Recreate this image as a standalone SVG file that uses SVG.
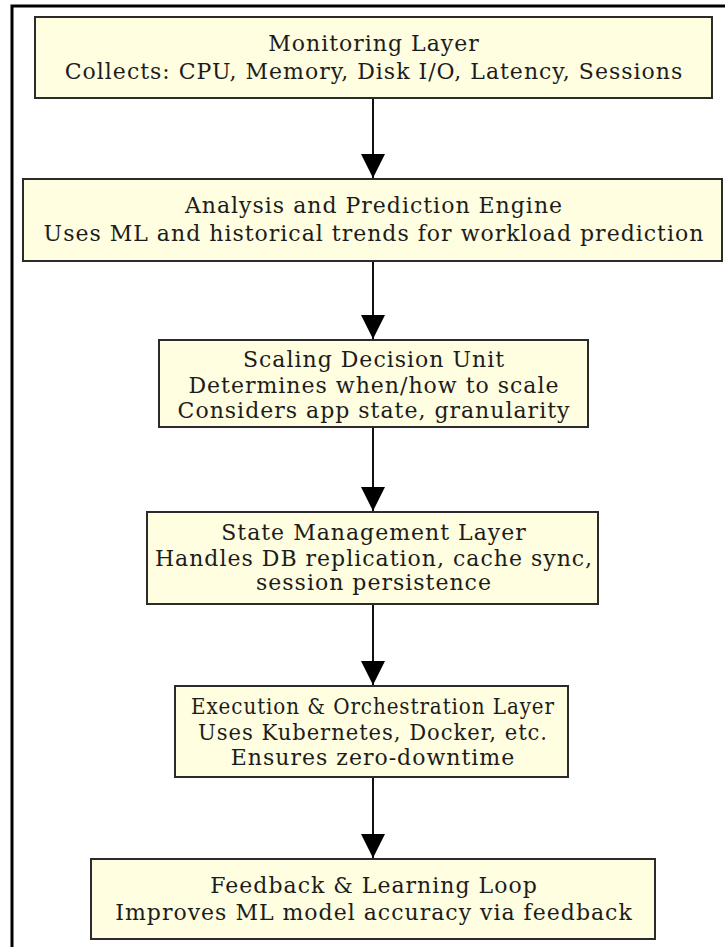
<svg xmlns="http://www.w3.org/2000/svg" width="725" height="947" viewBox="0 0 725 947">
<defs>
<style>
.box{fill:#fffee0;stroke:#2b2b2b;stroke-width:2}
.t{font-family:"DejaVu Serif","Liberation Serif",serif;font-size:22px;letter-spacing:1px;fill:#1c1c1c;text-anchor:middle}
.c{stroke:#111;stroke-width:2;fill:none}
</style>
<marker id="a" viewBox="0 0 24 24" refX="24" refY="12" markerWidth="24" markerHeight="24" markerUnits="userSpaceOnUse" orient="auto">
<path d="M0,0 L24,12 L0,24 Z" fill="#000"/>
</marker>
</defs>
<rect width="725" height="947" fill="#fff"/>
<rect x="12" y="6" width="730" height="960" fill="none" stroke="#000" stroke-width="3"/>
<g id="connectors">
<path class="c" d="M373,98 V178" marker-end="url(#a)"/>
<path class="c" d="M373,261 V339" marker-end="url(#a)"/>
<path class="c" d="M373,427 V511" marker-end="url(#a)"/>
<path class="c" d="M373,604 V685" marker-end="url(#a)"/>
<path class="c" d="M373,777 V858" marker-end="url(#a)"/>
</g>
<g id="monitoring">
<rect class="box" x="35" y="17" width="677" height="81"/>
<text class="t" x="374" y="51">Monitoring Layer</text>
<text class="t" x="374" y="79">Collects: CPU, Memory, Disk I/O, Latency, Sessions</text>
</g>
<g id="analysis">
<rect class="box" x="23" y="179" width="699" height="82"/>
<text class="t" x="374" y="213">Analysis and Prediction Engine</text>
<text class="t" x="374" y="241">Uses ML and historical trends for workload prediction</text>
</g>
<g id="scaling">
<rect class="box" x="159" y="340" width="429" height="87"/>
<text class="t" x="374" y="367">Scaling Decision Unit</text>
<text class="t" x="374" y="393">Determines when/how to scale</text>
<text class="t" x="374" y="418">Considers app state, granularity</text>
</g>
<g id="state">
<rect class="box" x="147" y="512" width="451" height="92"/>
<text class="t" x="374" y="540">State Management Layer</text>
<text class="t" x="374" y="566">Handles DB replication, cache sync,</text>
<text class="t" x="374" y="590">session persistence</text>
</g>
<g id="execution">
<rect class="box" x="175" y="686" width="393" height="91"/>
<text class="t" x="373" y="714" textLength="364" lengthAdjust="spacingAndGlyphs">Execution &amp; Orchestration Layer</text>
<text class="t" x="373" y="740" textLength="350" lengthAdjust="spacingAndGlyphs">Uses Kubernetes, Docker, etc.</text>
<text class="t" x="373" y="765">Ensures zero-downtime</text>
</g>
<g id="feedback">
<rect class="box" x="91" y="859" width="564" height="80"/>
<text class="t" x="374" y="893">Feedback &amp; Learning Loop</text>
<text class="t" x="374" y="920">Improves ML model accuracy via feedback</text>
</g>
</svg>
